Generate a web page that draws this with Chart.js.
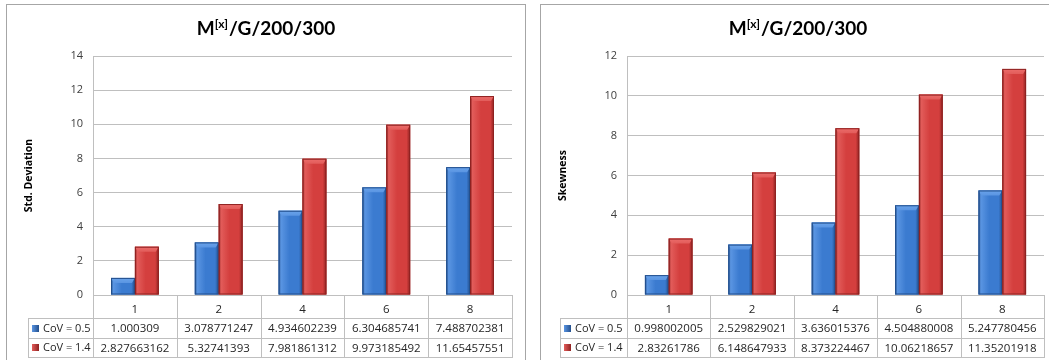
<!DOCTYPE html>
<html><head><meta charset="utf-8">
<script src="https://cdn.jsdelivr.net/npm/chart.js@4"></script>
<style>
html,body{margin:0;padding:0;background:#fff;overflow:hidden;width:1049px;height:360px}
.box{position:absolute;top:4px;border:1px solid #a6a6a6;background:#fff;height:380px}
#b1{left:6px;width:518px}
#b2{left:540px;width:514px}
canvas{position:absolute;left:0;top:0}
</style></head>
<body>
<div class="box" id="b1"><canvas id="c1" width="518" height="375"></canvas></div>
<div class="box" id="b2"><canvas id="c2" width="514" height="375"></canvas></div>
<script>
// ---- data ----
const categories = ['1', '2', '4', '6', '8'];
const seriesLabels = ['CoV = 0.5', 'CoV = 1.4'];
const stdDevCov05 = [1.000309, 3.078771247, 4.934602239, 6.304685741, 7.488702381];
const stdDevCov14 = [2.827663162, 5.32741393, 7.981861312, 9.973185492, 11.65457551];
const skewCov05 = [0.998002005, 2.529829021, 3.636015376, 4.504880008, 5.247780456];
const skewCov14 = [2.83261786, 6.148647933, 8.373224467, 10.06218657, 11.35201918];
const stdDevAxis = {min: 0, max: 14, step: 2, title: 'Std. Deviation'};
const skewAxis = {min: 0, max: 12, step: 2, title: 'Skewness'};
const titleParts = ['M', '[x]', '/G/200/300'];

// ---- styling ----
const FONT = '"Open Sans", "DejaVu Sans", sans-serif';
const TITLE_FONT = 'Lato, "Open Sans", sans-serif';
const LINE = '#bfbfbf';
const palette = [
  {base: '#3b7bd0', light: '#5a95e2', dark: '#234f8c', cap: '#6aa3ea'},
  {base: '#d43f3e', light: '#e25c5a', dark: '#8e2221', cap: '#ec6d6b'}
];
const PLOT_TOP = 51, PLOT_BOTTOM = 290, HEADER_H = 23, ROW_H = 19.5;

const titlePlugin = {
  id: 'titleSup',
  afterDraw(chart) {
    const ctx = chart.ctx;
    ctx.save();
    const big = 'bold 19px ' + TITLE_FONT, small = 'bold 12px ' + TITLE_FONT;
    ctx.font = big; const w0 = ctx.measureText(titleParts[0]).width;
    const w2 = ctx.measureText(titleParts[2]).width;
    ctx.font = small; const w1 = ctx.measureText(titleParts[1]).width + 1;
    const total = w0 + w1 + w2;
    let x = chart.width / 2 - total / 2;
    const y = 30;
    ctx.fillStyle = '#000'; ctx.textBaseline = 'alphabetic'; ctx.textAlign = 'left';
    ctx.font = big; ctx.fillText(titleParts[0], x, y); x += w0;
    ctx.font = small; ctx.fillText(titleParts[1], x, y - 7); x += w1;
    ctx.font = big; ctx.fillText(titleParts[2], x, y);
    ctx.restore();
  }
};

const bevelPlugin = {
  id: 'bevel',
  afterDatasetsDraw(chart) {
    const ctx = chart.ctx;
    chart.data.datasets.forEach((ds, di) => {
      const meta = chart.getDatasetMeta(di);
      const p = palette[di];
      meta.data.forEach(el => {
        const l = el.x - el.width / 2, r = el.x + el.width / 2;
        const top = el.y, bot = el.base;
        const g = ctx.createLinearGradient(l, 0, r, 0);
        g.addColorStop(0, p.dark);
        g.addColorStop(0.1, p.light);
        g.addColorStop(0.45, p.base);
        g.addColorStop(0.85, p.base);
        g.addColorStop(1, p.dark);
        ctx.save();
        ctx.fillStyle = g;
        ctx.fillRect(l, top, r - l, bot - top);
        const capH = Math.min(5, bot - top);
        const g2 = ctx.createLinearGradient(0, top, 0, top + capH);
        g2.addColorStop(0, p.cap);
        g2.addColorStop(1, p.light);
        ctx.fillStyle = g2;
        ctx.beginPath();
        ctx.moveTo(l, top); ctx.lineTo(r, top);
        ctx.lineTo(r - 3, top + capH); ctx.lineTo(l + 3, top + capH);
        ctx.closePath(); ctx.fill();
        ctx.strokeStyle = p.dark; ctx.lineWidth = 1;
        ctx.strokeRect(l + 0.5, top + 0.5, r - l - 1, bot - top - 1);
        ctx.restore();
      });
    });
  }
};

const tablePlugin = {
  id: 'dataTable',
  afterDraw(chart, args, opts) {
    const ctx = chart.ctx, xs = chart.scales.x, area = chart.chartArea;
    const n = chart.data.labels.length;
    const half = (xs.getPixelForValue(1) - xs.getPixelForValue(0)) / 2;
    const y0 = area.bottom, y1 = y0 + HEADER_H, y2 = y1 + ROW_H, y3 = y2 + ROW_H;
    const lx = opts.legendLeft;
    ctx.save();
    ctx.strokeStyle = LINE; ctx.lineWidth = 1;
    const h = (x1, x2, y) => { ctx.beginPath(); ctx.moveTo(x1, Math.round(y) + 0.5); ctx.lineTo(x2, Math.round(y) + 0.5); ctx.stroke(); };
    const v = (x, ya, yb) => { ctx.beginPath(); ctx.moveTo(Math.round(x) + 0.5, ya); ctx.lineTo(Math.round(x) + 0.5, yb); ctx.stroke(); };
    h(area.left, area.right, y0);
    h(lx, area.right, y1); h(lx, area.right, y2); h(lx, area.right, y3);
    v(lx, Math.round(y1), Math.round(y3) + 1);
    for (let i = 0; i < n; i++) v(xs.getPixelForValue(i) - half, y0, Math.round(y3) + 1);
    v(xs.getPixelForValue(n - 1) + half, y0, Math.round(y3) + 1);
    ctx.font = '11.5px ' + FONT; ctx.textBaseline = 'middle';
    const rows = [[y1, y2], [y2, y3]];
    chart.data.datasets.forEach((ds, di) => {
      const cy = (rows[di][0] + rows[di][1]) / 2 + 1;
      const p = palette[di];
      const mg = ctx.createLinearGradient(lx + 4, 0, lx + 11, 0);
      mg.addColorStop(0, p.light); mg.addColorStop(1, p.dark);
      ctx.fillStyle = mg;
      ctx.fillRect(lx + 4, Math.round(cy) - 4, 7, 7);
      ctx.fillStyle = '#262626'; ctx.textAlign = 'left';
      ctx.font = '11px ' + FONT;
      ctx.fillText(ds.label, lx + 15, cy);
      ctx.font = '11.5px ' + FONT;
      ctx.textAlign = 'center';
      ds.data.forEach((val, i) => ctx.fillText(String(val), xs.getPixelForValue(i), cy));
    });
    ctx.restore();
  }
};

function makeChart(id, a, b, axis, legendLeft, padRight) {
  return new Chart(document.getElementById(id), {
    type: 'bar',
    data: {
      labels: categories,
      datasets: [
        {label: seriesLabels[0], data: a, backgroundColor: palette[0].base},
        {label: seriesLabels[1], data: b, backgroundColor: palette[1].base}
      ]
    },
    options: {
      responsive: false, animation: false,
      layout: {padding: {top: PLOT_TOP, right: padRight, left: 0, bottom: 0}},
      datasets: {bar: {categoryPercentage: 0.57, barPercentage: 1.0}},
      plugins: {legend: {display: false}, tooltip: {enabled: false},
                dataTable: {legendLeft: legendLeft}},
      scales: {
        x: {
          grid: {display: false, drawTicks: false},
          border: {display: false},
          ticks: {font: {family: FONT, size: 11.5}, color: '#262626', padding: 8},
          afterFit: s => { s.height = 375 - PLOT_BOTTOM; }
        },
        y: {
          min: axis.min, max: axis.max,
          grid: {color: LINE, drawTicks: false},
          border: {display: true, color: LINE},
          ticks: {stepSize: axis.step, font: {family: FONT, size: 11}, color: '#404040', padding: 10},
          title: {display: true, text: axis.title, font: {family: FONT, size: 10.5, weight: 'bold'}, color: '#000', padding: {top: 16, bottom: 0}},
          afterFit: s => { s.width = 86; }
        }
      }
    },
    plugins: [bevelPlugin, tablePlugin, titlePlugin]
  });
}

makeChart('c1', stdDevCov05, stdDevCov14, stdDevAxis, 21, 518 - 505);
makeChart('c2', skewCov05, skewCov14, skewAxis, 19, 514 - 503);
</script>
</body></html>
